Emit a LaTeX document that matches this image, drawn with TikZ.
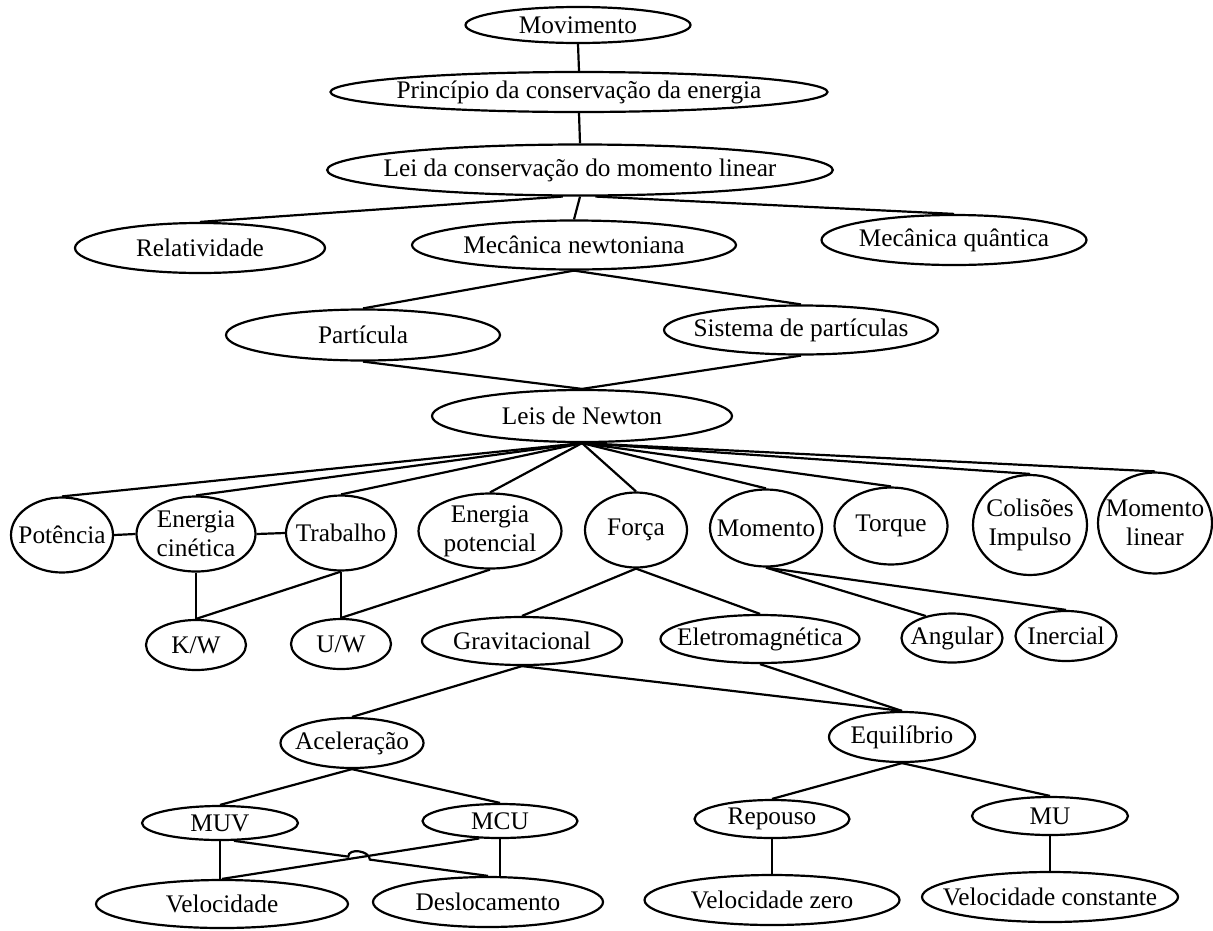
\documentclass[tikz,border=0pt]{standalone}
\usepackage{fontspec}
\setmainfont{Liberation Serif}
\usetikzlibrary{shapes.geometric,calc}

\begin{document}
\begin{tikzpicture}[
    x=0.02cm, y=-0.02cm,
    font=\fontsize{14.4}{16.5}\selectfont,
    concept/.style={ellipse, draw, line width=1.25pt, align=center,
        inner xsep=-10pt, inner ysep=0pt},
    wh/.style 2 args={minimum width=#1*0.02cm, minimum height=#2*0.02cm},
    link/.style={line width=1.25pt},
]

    \useasboundingbox (0,0) rectangle (1213,930);

    % =============================================================
    % Top: from Movimento down to the Leis de Newton
    % =============================================================
    \node[concept, wh={225}{36}] (mov)   at (578,25)  {Movimento};
    \node[concept, wh={497}{40}] (princ) at (579,92)  {Princípio da conservação da energia};
    \node[concept, wh={496}{51}] (lei)   at (580,170) {Lei da conservação do momento linear};

    \node[concept, wh={250}{50}] (rel)  at (200,248) {Relatividade};
    \node[concept, wh={324}{49}] (mecn) at (574,245) {Mecânica newtoniana};
    \node[concept, wh={265}{50}] (mecq) at (954,240) {Mecânica quântica};

    \node[concept, wh={274}{51}] (part) at (363,335) {Partícula};
    \node[concept, wh={274}{49}] (sist) at (801,330) {Sistema de partículas};

    \node[concept, wh={300}{52}] (leis) at (582,416) {Leis de Newton};

    \draw[link] (mov.south) -- (princ.north);
    \draw[link] (princ.south) -- (lei.north);
    \draw[link] (lei.-123) -- (rel.north);
    \draw[link] (lei.south) -- (mecn.north);
    \draw[link] (lei.-60) -- (mecq.north);
    \draw[link] (mecn.south) -- (part.north);
    \draw[link] (mecn.south) -- (sist.north);
    \draw[link] (part.south) -- (leis.north);
    \draw[link] (sist.south) -- (leis.north);

    % =============================================================
    % The row of concepts that hang from the Leis de Newton
    % =============================================================
    \node[concept, wh={102}{75}]  (pot)   at (62,535)   {Potência};
    \node[concept, wh={119}{75}]  (ecin)  at (196,534)  {Energia\\cinética};
    \node[concept, wh={110}{75}]  (trab)  at (341,533)  {Trabalho};
    \node[concept, wh={143}{75}]  (epot)  at (490,531)  {Energia\\potencial};
    \node[concept, wh={102}{75}]  (forca) at (636,530)  {Força};
    \node[concept, wh={112}{77}]  (mom)   at (766,528)  {Momento};
    \node[concept, wh={113}{77}]  (torq)  at (891,526)  {Torque};
    \node[concept, wh={114}{100}] (col)   at (1030,525) {Colisões\\Impulso};
    \node[concept, wh={114}{101}] (mlin)  at (1155,523) {Momento\\linear};

    \draw[link] (leis.south) -- (pot.north);
    \draw[link] (leis.south) -- (ecin.north);
    \draw[link] (leis.south) -- (trab.north);
    \draw[link] (leis.south) -- (epot.north);
    \draw[link] (leis.south) -- (forca.north);
    \draw[link] (leis.south) -- (mom.north);
    \draw[link] (leis.south) -- (torq.north);
    \draw[link] (leis.south) -- (col.north);
    \draw[link] (leis.south) -- (mlin.north);

    \draw[link] (pot.east) -- (ecin.west);
    \draw[link] (ecin.east) -- (trab.west);

    % =============================================================
    % Second row
    % =============================================================
    \node[concept, wh={100}{50}] (kw)     at (196,645)  {K/W};
    \node[concept, wh={100}{50}] (uw)     at (341,644)  {U/W};
    \node[concept, wh={200}{48}] (grav)   at (522,641)  {Gravitacional};
    \node[concept, wh={199}{48}] (eletro) at (760,639)  {Eletromagnética};
    \node[concept, wh={101}{49}] (ang)    at (952,638)  {Angular};
    \node[concept, wh={101}{50}] (inerc)  at (1066,636) {Inercial};

    \draw[link] (ecin.south) -- (kw.north);
    \draw[link] (trab.south) -- (kw.north);
    \draw[link] (trab.south) -- (uw.north);
    \draw[link] (epot.south) -- (uw.north);
    \draw[link] (forca.south) -- (grav.north);
    \draw[link] (forca.south) -- (eletro.north);
    \draw[link] (mom.south) -- (ang.140);
    \draw[link] (mom.south) -- (inerc.north);

    % =============================================================
    % Aceleração and Equilíbrio, with what follows from them
    % =============================================================
    \node[concept, wh={143}{50}] (acel)  at (352,743) {Aceleração};
    \node[concept, wh={146}{50}] (equil) at (902,737) {Equilíbrio};

    \draw[link] (grav.south) -- (acel.north);
    \draw[link] (grav.south) -- (equil.north);
    \draw[link] (eletro.south) -- (equil.north);

    \node[concept, wh={156}{34}] (muv)    at (220,823)  {MUV};
    \node[concept, wh={155}{34}] (mcu)    at (500,821)  {MCU};
    \node[concept, wh={155}{38}] (rep)    at (772,819)  {Repouso};
    \node[concept, wh={156}{38}] (mu)     at (1050,816) {MU};

    \node[concept, wh={252}{48}] (veloc)  at (222,904)  {Velocidade};
    \node[concept, wh={230}{50}] (desloc) at (488,902)  {Deslocamento};
    \node[concept, wh={255}{50}] (velz)   at (772,900)  {Velocidade zero};
    \node[concept, wh={256}{50}] (velc)   at (1050,897) {Velocidade constante};

    \draw[link] (acel.south) -- (muv.north);
    \draw[link] (acel.south) -- (mcu.north);
    \draw[link] (equil.south) -- (rep.north);
    \draw[link] (equil.south) -- (mu.north);

    \draw[link] (muv.south) -- (muv.south |- veloc.north);
    \draw[link] (mcu.south) -- (mcu.south |- desloc.north);
    \draw[link] (mcu.-140) -- (veloc.north);

    % the line from MUV hops over the one from MCU
    \coordinate (hopa) at ($(muv.-52)!0.45!(desloc.north)$);
    \coordinate (hopb) at ($(muv.-52)!0.535!(desloc.north)$);
    \draw[link] (muv.-52) -- (hopa)
        .. controls +(0,-9) and +(0,-9) .. (hopb) -- (desloc.north);

    \draw[link] (rep.south) -- (velz.north);
    \draw[link] (mu.south) -- (velc.north);

\end{tikzpicture}
\end{document}
